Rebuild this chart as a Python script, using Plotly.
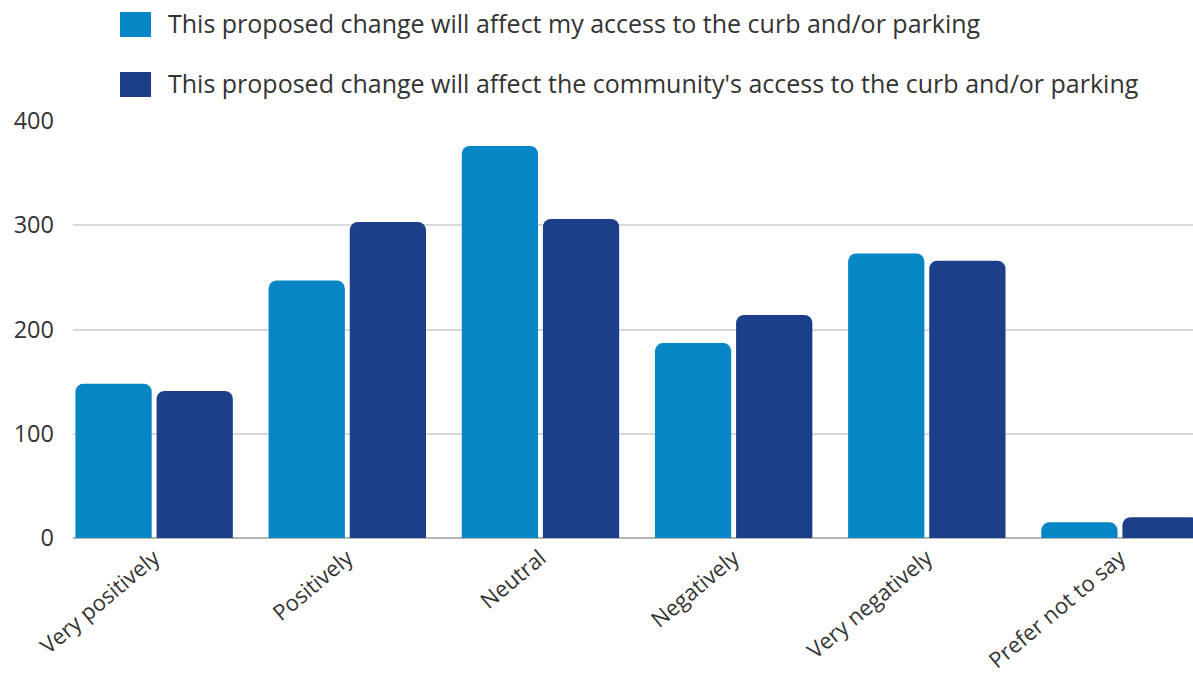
import plotly.graph_objects as go

categories = ["Very positively", "Positively", "Neutral", "Negatively",
              "Very negatively", "Prefer not to say"]
my_access = [148, 247, 376, 187, 273, 15]
community_access = [141, 303, 306, 214, 266, 20]
series_names = [
    "This proposed change will affect my access to the curb and/or parking",
    "This proposed change will affect the community's access to the curb and/or parking",
]
y_ticks = [0, 100, 200, 300, 400]

LIGHT = "#0786c6"
DARK = "#1b3f88"
TEXT = "#333333"

W, H = 1193, 675
L, R, T, B = 73, 0, 121, 137
pw, ph = W - L - R, H - T - B

fig = go.Figure()
for name, vals, col in [(series_names[0], my_access, LIGHT),
                        (series_names[1], community_access, DARK)]:
    fig.add_trace(go.Bar(
        x=categories, y=vals, name=name,
        marker=dict(color=col, line=dict(width=0), cornerradius=8),
        showlegend=False,
    ))

# legend drawn as swatches + labels above the plot
def px_x(x):
    return (x - L) / pw

def px_y(y):
    return (H - B - y) / ph

rows = [(12, 37, LIGHT, series_names[0]), (72, 97, DARK, series_names[1])]
for y0, y1, col, label in rows:
    fig.add_shape(type="rect", xref="paper", yref="paper",
                  x0=px_x(120), x1=px_x(151), y0=px_y(y1), y1=px_y(y0),
                  fillcolor=col, line=dict(width=0))
    fig.add_annotation(xref="paper", yref="paper", x=px_x(166),
                       y=px_y((y0 + y1) / 2 - 1), text=label, showarrow=False,
                       xanchor="left", yanchor="middle",
                       font=dict(size=25, color=TEXT))

fig.update_layout(
    width=W, height=H,
    margin=dict(l=L, r=R, t=T, b=B, autoexpand=False),
    paper_bgcolor="white", plot_bgcolor="white",
    barmode="group", bargap=0.16, bargroupgap=0.06,
    font=dict(family="Open Sans", size=22, color=TEXT),
)
fig.update_xaxes(
    range=[-0.42, 5.378], tickangle=-40, showgrid=False,
    showline=False, ticks="", ticklabelstandoff=2,
    tickfont=dict(size=22, color=TEXT),
)
fig.update_yaxes(
    range=[0, 400], tickvals=y_ticks, showgrid=True, gridcolor="#d9d9d9",
    gridwidth=1.5, zeroline=True, zerolinecolor="#b5b5b5", zerolinewidth=1.5,
    ticks="", ticklabelstandoff=18, tickfont=dict(size=23.5, color=TEXT),
)

fig.write_html("out.html")
